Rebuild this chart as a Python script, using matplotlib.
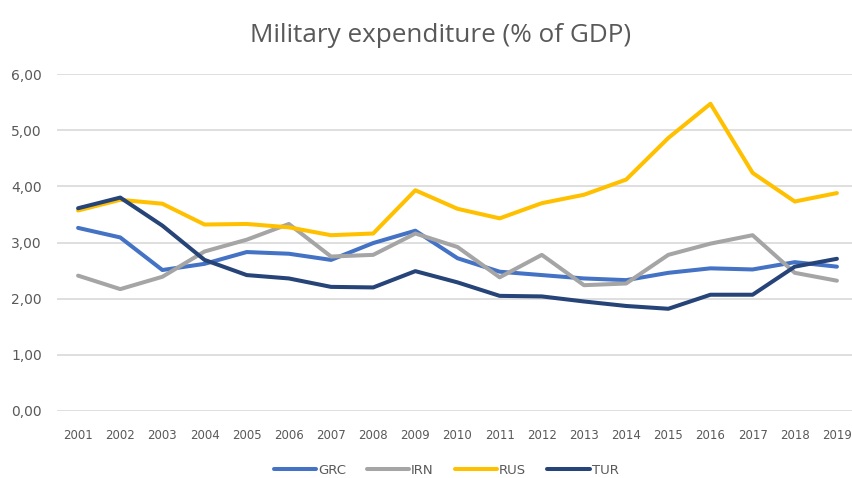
import matplotlib
matplotlib.use("Agg")
import matplotlib.pyplot as plt
from matplotlib.ticker import FuncFormatter

years = [str(y) for y in range(2001, 2020)]
grc = [3.26, 3.09, 2.51, 2.62, 2.83, 2.80, 2.69, 2.99, 3.21, 2.72, 2.48, 2.42, 2.36, 2.33, 2.46, 2.54, 2.52, 2.65, 2.57]
irn = [2.41, 2.17, 2.39, 2.84, 3.05, 3.33, 2.75, 2.78, 3.16, 2.92, 2.38, 2.78, 2.24, 2.27, 2.78, 2.98, 3.13, 2.46, 2.32]
rus = [3.57, 3.76, 3.69, 3.32, 3.33, 3.27, 3.13, 3.16, 3.93, 3.60, 3.43, 3.70, 3.85, 4.12, 4.86, 5.47, 4.24, 3.73, 3.88]
tur = [3.61, 3.80, 3.30, 2.69, 2.42, 2.36, 2.21, 2.20, 2.49, 2.29, 2.05, 2.04, 1.95, 1.87, 1.82, 2.07, 2.07, 2.57, 2.71]
series = [("GRC", grc, "#4472C4"), ("IRN", irn, "#A5A5A5"),
          ("RUS", rus, "#FFC000"), ("TUR", tur, "#264478")]
title = "Military expenditure (% of GDP)"

W, H = 853, 478
fig = plt.figure(figsize=(W / 100, H / 100), dpi=100)
left, right, top, bottom = 57, 858, 74, 411
ax = fig.add_axes([left / W, 1 - bottom / H, (right - left) / W, (bottom - top) / H])

x = list(range(len(years)))
for name, vals, col in series:
    ax.plot(x, vals, color=col, lw=2.9, label=name, solid_joinstyle="round", solid_capstyle="round")

ax.set_xlim(-0.5, len(years) - 0.5)
ax.set_ylim(0, 6)
ax.set_yticks([0, 1, 2, 3, 4, 5, 6])
ax.yaxis.set_major_formatter(FuncFormatter(lambda v, p: f"{v:.2f}".replace(".", ",")))
ax.set_xticks(x)
ax.set_xticklabels(years, fontsize=8.5)
ax.grid(axis="y", color="#D9D9D9", lw=1.2)
ax.set_axisbelow(True)
for s in ax.spines.values():
    s.set_visible(False)
ax.tick_params(axis="both", length=0, colors="#595959")
ax.tick_params(axis="y", labelsize=10, pad=11)
ax.tick_params(axis="x", pad=13)

fig.text(441 / W, 1 - 35 / H, title, ha="center", va="center", fontsize=18.8,
         color="#595959", family="Open Sans")

leg = fig.legend(loc="center", bbox_to_anchor=(446 / W, 1 - 470 / H), ncol=4, frameon=False,
                 handlelength=3.2, handletextpad=0.15, columnspacing=1.6,
                 borderpad=0, borderaxespad=0, prop={"size": 9.5})
for t in leg.get_texts():
    t.set_color("#595959")

fig.savefig("out.png", dpi=100)
